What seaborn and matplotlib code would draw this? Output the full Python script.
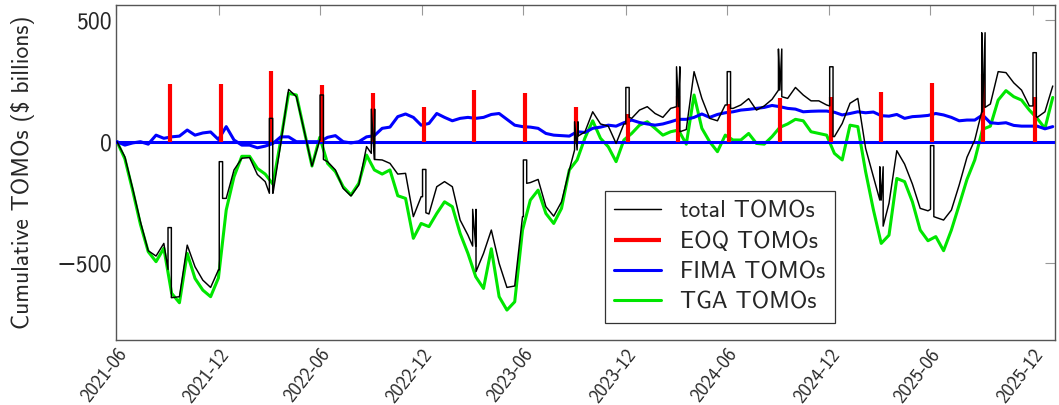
import pandas as pd
import matplotlib
matplotlib.use("Agg")
import matplotlib.pyplot as plt
import seaborn as sns

# biweekly sample dates, values in $ billions
dates = pd.date_range("2021-07-01", periods=121, freq="14D")

total_vals = [
    0, -62, -192, -329, -448, -470, -418, -641, -637, -425,
    -514, -569, -599, -527, -233, -116, -68, -65, -135, -164,
    -212, -7, 215, 185, 45, -100, 7, -82, -116, -192,
    -223, -178, -20, -73, -75, -89, -133, -130, -308, -226,
    -297, -185, -164, -185, -322, -384, -429, -459, -363, -500,
    -599, -593, -308, -168, -155, -267, -306, -247, -116, -34,
    40, 123, 73, 64, -7, 73, 96, 130, 144, 116,
    100, 137, 144, 50, 288, 178, 96, 86, 151, 137,
    151, 177, 130, 147, 174, 212, 178, 223, 192, 168,
    168, 151, 21, 75, 158, 178, -27, -144, -240, -253,
    -37, -92, -174, -274, -284, -311, -322, -281, -178, -64,
    7, 123, 155, 288, 284, 242, 212, 147, 100, 123,
    229,
]

tga_vals = [
    0, -70, -200, -340, -452, -493, -438, -623, -662, -459,
    -562, -610, -637, -560, -281, -144, -60, -60, -110, -133,
    -175, 7, 199, 192, 45, -100, 18, -89, -123, -185,
    -219, -171, -55, -116, -133, -116, -222, -233, -397, -336,
    -349, -295, -247, -267, -377, -459, -555, -603, -440, -637,
    -692, -658, -363, -240, -199, -295, -336, -274, -116, -75,
    15, 86, 14, -21, -82, 7, 34, 68, 82, 55,
    27, 41, 48, -10, 192, 55, 0, -41, 27, 7,
    7, 34, -7, -10, 21, 59, 73, 92, 86, 41,
    34, 27, -48, -75, 68, 62, -123, -280, -418, -384,
    -151, -164, -247, -363, -407, -390, -448, -363, -260, -155,
    -75, 51, 64, 171, 210, 185, 171, 130, 96, 55,
    182,
]

fima_vals = [
    0, -14, -5, 0, -10, 27, 14, 20, 23, 48,
    27, 36, 40, 9, 62, 7, -14, -14, -25, -18,
    -7, 20, 20, 0, 0, 0, 0, 18, 25, 0,
    -5, 0, 20, 25, 55, 60, 103, 114, 100, 68,
    75, 116, 100, 86, 96, 100, 96, 100, 112, 116,
    92, 68, 62, 60, 55, 34, 27, 25, 23, 41,
    38, 55, 60, 68, 64, 78, 89, 79, 73, 68,
    73, 82, 92, 92, 100, 114, 100, 112, 119, 123,
    130, 133, 137, 141, 149, 144, 137, 134, 123, 125,
    126, 126, 121, 110, 116, 123, 119, 122, 107, 105,
    112, 96, 103, 105, 108, 116, 110, 100, 86, 89,
    89, 110, 78, 75, 78, 67, 64, 64, 64, 53,
    62,
]

# end-of-quarter TOMOs
eoq_dates = [
    "2021-09-30", "2021-12-31", "2022-03-31", "2022-06-30", "2022-09-30", "2022-12-31",
    "2023-03-31", "2023-06-30", "2023-09-30", "2023-12-31", "2024-03-31", "2024-06-30",
    "2024-09-30", "2024-12-31", "2025-03-31", "2025-06-30", "2025-09-30", "2025-12-31",
]
eoq_vals = [237, 237, 290, 233, 199, 144, 212, 201, 141, 114, 188, 155, 180, 185, 205, 242, 278, 185]

# total TOMOs around each quarter end: level before, spike top, level after
spike_before = [-525, -527, -212, 7, -48, -226, -429, -308, -34, 73, 144, 151, 212, 147, -240, -278, 123, 147]
spike_top = [-353, -82, 96, 192, 134, -114, -278, -75, 82, 223, 308, 288, 381, 308, -103, -16, 448, 366]
spike_after = [-641, -233, -212, -73, -73, -292, -534, -171, 23, 100, 41, 137, 185, 21, -347, -308, 141, 103]

ytick_vals = [-500, 0, 500]
ytick_text = ["\u2212500", "0", "500"]

sns.set_theme(style="white")
plt.rcParams["font.family"] = ["cmss10", "DejaVu Sans"]

# build the total path with the quarter-end spikes
rows = [(d, v) for d, v in zip(dates, total_vals)]
for d, b, t, a in zip(eoq_dates, spike_before, spike_top, spike_after):
    start = pd.Timestamp(d) + pd.Timedelta(hours=12)
    end = start + pd.Timedelta(days=6)
    rows += [(start, b), (start, t), (end, t), (end, a)]
total_df = pd.DataFrame(rows, columns=["date", "value"])
total_df = total_df.sort_values("date", kind="stable").reset_index(drop=True)

comp_df = pd.DataFrame({"date": dates, "TGA": tga_vals, "FIMA": fima_vals})
eoq_x = pd.to_datetime(eoq_dates) + pd.Timedelta(days=3, hours=12)

fig, ax = plt.subplots(figsize=(10.59, 4.05), dpi=100)
fig.subplots_adjust(left=0.110, right=0.9962, top=0.9877, bottom=0.1605)

sns.lineplot(data=comp_df, x="date", y="TGA", color="#00e600", lw=2.2,
             label="TGA TOMOs", ax=ax, zorder=2)
sns.lineplot(data=comp_df, x="date", y="FIMA", color="#0000ff", lw=2.2,
             label="FIMA TOMOs", ax=ax, zorder=3)
ax.axhline(0, color="#0000ff", lw=2.2, zorder=3)
ax.vlines(eoq_x, 0, eoq_vals, color="#ff0000", lw=3, label="EOQ TOMOs", zorder=4)
sns.lineplot(data=total_df, x="date", y="value", color="black", lw=1.05,
             sort=False, estimator=None, label="total TOMOs", ax=ax, zorder=5)

ax.set_xlim(pd.Timestamp("2021-06-30"), pd.Timestamp("2026-02-09"))
ax.set_ylim(-815, 562)
ax.set_yticks(ytick_vals)
ax.set_yticklabels(ytick_text)

ticks = pd.date_range("2021-06-30", periods=10, freq="6ME")
ax.set_xticks(ticks)
ax.set_xticklabels([t.strftime("%Y-%m") for t in ticks], rotation=52,
                   ha="right", rotation_mode="anchor")

ax.set_xlabel("")
ax.set_ylabel("Cumulative TOMOs ($ billions)", fontsize=17, labelpad=15)
ax.tick_params(axis="both", direction="in", length=7, width=0.8, color="#999999",
               top=True, right=True)
ax.tick_params(axis="y", labelsize=17)
ax.tick_params(axis="x", labelsize=13.5, pad=4)
for s in ax.spines.values():
    s.set_color("#555555")
    s.set_linewidth(1.0)

handles, labels = ax.get_legend_handles_labels()
order = ["total TOMOs", "EOQ TOMOs", "FIMA TOMOs", "TGA TOMOs"]
hmap = dict(zip(labels, handles))
leg = ax.legend([hmap[l] for l in order], order, loc="lower left",
                bbox_to_anchor=(0.52, 0.051), borderaxespad=0, fontsize=17,
                frameon=True, fancybox=False, edgecolor="black",
                handlelength=2.0, labelspacing=0.35)
leg.get_frame().set_linewidth(0.9)

fig.savefig("out.png", dpi=100)
